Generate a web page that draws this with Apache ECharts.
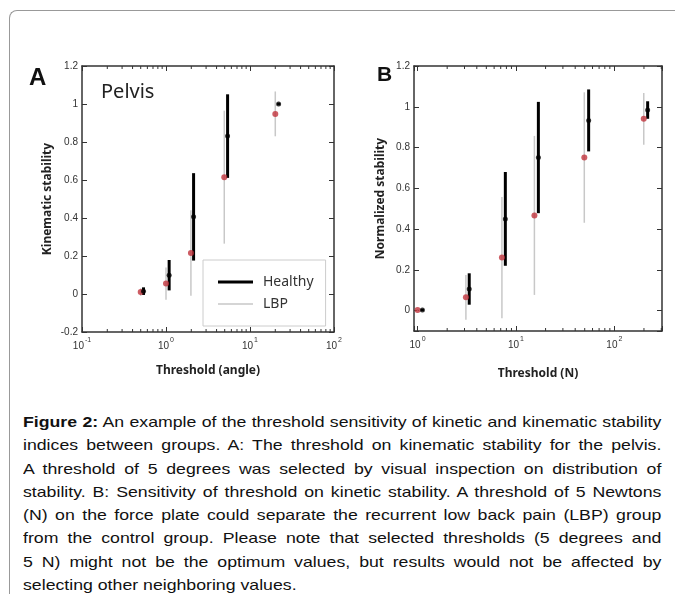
<!doctype html>
<html>
<head>
<meta charset="utf-8">
<title>Figure 2</title>
<script src="https://cdn.jsdelivr.net/npm/echarts@6/dist/echarts.min.js"></script>
<style>
    html, body { margin: 0; padding: 0; background: #fff; }
    #wrap { position: relative; width: 675px; height: 594px; overflow: hidden; }
    #frame {
        position: absolute; left: 9px; top: 10px; width: 720px; height: 650px;
        border-top: 1.5px solid #999; border-left: 1.5px solid #999;
        border-top-left-radius: 8px;
    }
    #main { position: absolute; left: 0; top: 0; width: 675px; height: 400px; }
    #caption {
        position: absolute; left: 23px; top: 410px; width: 541px;
        transform: scaleX(1.18); transform-origin: 0 0;
        font-family: 'Liberation Sans', Arial, sans-serif; font-size: 15px; color: #111;
    }
    #caption div { line-height: 23.3px; height: 23.3px; white-space: nowrap; text-align: justify; text-align-last: justify; }
    #caption div.last { text-align-last: left; }
</style>
</head>
<body>
<div id="wrap">
    <div id="frame"></div>
    <div id="main"></div>
    <div id="caption">
        <div><b>Figure 2:</b> An example of the threshold sensitivity of kinetic and kinematic stability</div>
        <div>indices between groups. A: The threshold on kinematic stability for the pelvis.</div>
        <div>A threshold of 5 degrees was selected by visual inspection on distribution of</div>
        <div>stability. B: Sensitivity of threshold on kinetic stability. A threshold of 5 Newtons</div>
        <div>(N) on the force plate could separate the recurrent low back pain (LBP) group</div>
        <div>from the control group. Please note that selected thresholds (5 degrees and</div>
        <div>5 N) might not be the optimum values, but results would not be affected by</div>
        <div class="last">selecting other neighboring values.</div>
    </div>
</div>
<script>
    // panel A : kinematic stability (pelvis)
    var thrA_healthy = [0.54, 1.09, 2.13, 5.41, 21.9];
    var meanA_healthy = [0.015, 0.099, 0.406, 0.831, 1.0];
    var errA_healthy = [0.02, 0.08, 0.23, 0.22, 0.005];
    var thrA_lbp = [0.5, 1.0, 1.98, 4.94, 20];
    var meanA_lbp = [0.01, 0.055, 0.216, 0.615, 0.948];
    var errA_lbp = [0.02, 0.085, 0.225, 0.35, 0.118];

    // panel B : normalized (kinetic) stability
    var thrB_healthy = [1.12, 3.35, 7.8, 16.9, 54.8, 218];
    var meanB_healthy = [0.003, 0.106, 0.45, 0.751, 0.933, 0.984];
    var errB_healthy = [0.005, 0.077, 0.23, 0.273, 0.152, 0.043];
    var thrB_lbp = [1.0, 3.1, 7.2, 15.4, 49.5, 199];
    var meanB_lbp = [0.003, 0.065, 0.26, 0.467, 0.751, 0.941];
    var errB_lbp = [0.005, 0.11, 0.297, 0.39, 0.32, 0.127];

    // log minor ticks
    var minorA = [0.2, 0.3, 0.4, 0.5, 0.6, 0.7, 0.8, 0.9, 2, 3, 4, 5, 6, 7, 8, 9, 20, 30, 40, 50, 60, 70, 80, 90];
    var minorB = [2, 3, 4, 5, 6, 7, 8, 9, 20, 30, 40, 50, 60, 70, 80, 90, 200, 300];

    var myChart = echarts.init(document.getElementById('main'));

    function rows(xs, ms, es) {
        return xs.map(function (x, i) { return [x, ms[i], es[i]]; });
    }

    function errBar(color, width) {
        return function (params, api) {
            var x = api.value(0), m = api.value(1), e = api.value(2);
            var p1 = api.coord([x, m + e]);
            var p2 = api.coord([x, m - e]);
            return {
                type: 'line',
                shape: { x1: p1[0], y1: p1[1], x2: p2[0], y2: p2[1] },
                style: { stroke: color, lineWidth: width }
            };
        };
    }

    function minorTick(params, api) {
        var cs = params.coordSys;
        var x = api.coord([api.value(0), 0.5])[0];
        var st = { stroke: '#333', lineWidth: 1 };
        return {
            type: 'group',
            children: [
                { type: 'line', shape: { x1: x, y1: cs.y + cs.height, x2: x, y2: cs.y + cs.height - 3 }, style: st },
                { type: 'line', shape: { x1: x, y1: cs.y, x2: x, y2: cs.y + 3 }, style: st }
            ]
        };
    }

    function logLabel(v) {
        var e = Math.round(Math.log(v) / Math.LN10);
        if (Math.abs(Math.log(v) / Math.LN10 - e) > 1e-6) return '';
        return '{b|10}{s|' + e + '}';
    }

    function yLabel(v) {
        var k = v / 0.2;
        if (Math.abs(k - Math.round(k)) > 1e-6) return '';
        return String(+v.toFixed(1));
    }

    var axLine = { show: true, onZero: false, lineStyle: { color: '#333', width: 1.5 } };
    var axTick = { show: true, inside: true, length: 5, lineStyle: { color: '#333' } };
    var nameStyle = { fontFamily: 'Noto Sans', fontWeight: 'bold', fontSize: 12, color: '#222' };
    var logRich = {
        b: { fontFamily: 'Liberation Sans', fontSize: 10, color: '#333', lineHeight: 14, verticalAlign: 'bottom' },
        s: { fontFamily: 'Liberation Sans', fontSize: 7, color: '#333', lineHeight: 14, verticalAlign: 'top', padding: [0, 0, 0, 1] }
    };

    function xAx(grid, min, max, pos, name, gap) {
        return {
            type: 'log', logBase: 10, gridIndex: grid, min: min, max: max, position: pos,
            axisLine: axLine, axisTick: axTick, splitLine: { show: false },
            axisLabel: { show: pos === 'bottom', formatter: logLabel, rich: logRich, margin: 5 },
            name: name, nameLocation: 'middle', nameGap: gap, nameTextStyle: nameStyle
        };
    }

    function yAx(grid, min, max, pos, name, gap, extra) {
        var a = {
            type: 'value', gridIndex: grid, min: min, max: max, position: pos,
            axisLine: axLine, axisTick: axTick, splitLine: { show: false },
            axisLabel: { show: pos === 'left', formatter: yLabel, margin: 4,
                fontFamily: 'Liberation Sans', fontSize: 10, color: '#333' },
            name: name, nameLocation: 'middle', nameGap: gap, nameTextStyle: nameStyle
        };
        for (var k in extra) a[k] = extra[k];
        return a;
    }

    var iconHealthy = 'path://M0,0h0.01v0.01h-0.01z M0,3.6h35v2.8h-35z M0,10h0.01v-0.01h-0.01z';
    var iconLbp = 'path://M0,0h0.01v0.01h-0.01z M0,4.3h35v1.4h-35z M0,10h0.01v-0.01h-0.01z';

    option = {
        animation: false,
        grid: [
            { left: 82, top: 66, width: 252, height: 266 },
            { left: 414, top: 66, width: 248, height: 265 }
        ],
        xAxis: [
            xAx(0, 0.1, 100, 'bottom', 'Threshold (angle)', 33),
            xAx(0, 0.1, 100, 'top', '', 0),
            xAx(1, 0.92, 305, 'bottom', 'Threshold (N)', 37),
            xAx(1, 0.92, 305, 'top', '', 0)
        ],
        yAxis: [
            yAx(0, -0.2, 1.2, 'left', 'Kinematic stability', 28, { interval: 0.2 }),
            yAx(0, -0.2, 1.2, 'right', '', 0, { interval: 0.2 }),
            yAx(1, -0.1, 1.2, 'left', 'Normalized stability', 27, { splitNumber: 6 }),
            yAx(1, -0.1, 1.2, 'right', '', 0, { splitNumber: 6 })
        ],
        legend: {
            left: 203, top: 260, orient: 'vertical', selectedMode: false,
            itemWidth: 35, itemHeight: 10, itemGap: 8,
            padding: [15, 12, 15, 15],
            backgroundColor: '#fff', borderColor: '#ccc', borderWidth: 1,
            textStyle: { fontFamily: 'Noto Sans', fontSize: 14, color: '#333', padding: [0, 0, 0, 5] },
            data: [
                { name: 'Healthy', icon: iconHealthy, itemStyle: { color: '#000' } },
                { name: 'LBP', icon: iconLbp, itemStyle: { color: '#c8c8c8' } }
            ]
        },
        graphic: [
            { type: 'text', left: 29, top: 66, style: { text: 'A', font: 'bold 24px "Liberation Sans"', fill: '#111' } },
            { type: 'text', left: 377, top: 65, style: { text: 'B', font: 'bold 21px "Liberation Sans"', fill: '#111' } },
            { type: 'text', left: 101, top: 82, style: { text: 'Pelvis', font: '20px "Noto Sans"', fill: '#222' } }
        ],
        series: [
            { type: 'custom', name: 'minorA', xAxisIndex: 0, yAxisIndex: 0, silent: true, renderItem: minorTick,
                data: minorA.map(function (v) { return [v]; }) },
            { type: 'custom', name: 'minorB', xAxisIndex: 2, yAxisIndex: 2, silent: true, renderItem: minorTick,
                data: minorB.map(function (v) { return [v]; }) },

            { type: 'custom', name: 'LBP', xAxisIndex: 0, yAxisIndex: 0, z: 2, itemStyle: { color: '#c8c8c8' },
                renderItem: errBar('#c8c8c8', 1.5), data: rows(thrA_lbp, meanA_lbp, errA_lbp) },
            { type: 'custom', name: 'Healthy', xAxisIndex: 0, yAxisIndex: 0, z: 3, itemStyle: { color: '#000' },
                renderItem: errBar('#000', 3), data: rows(thrA_healthy, meanA_healthy, errA_healthy) },
            { type: 'scatter', name: 'LBP mean A', xAxisIndex: 0, yAxisIndex: 0, z: 4, symbolSize: 6,
                itemStyle: { color: '#c0333c' }, data: rows(thrA_lbp, meanA_lbp, errA_lbp) },
            { type: 'scatter', name: 'Healthy mean A', xAxisIndex: 0, yAxisIndex: 0, z: 5, symbolSize: 5,
                itemStyle: { color: '#000' }, data: rows(thrA_healthy, meanA_healthy, errA_healthy) },

            { type: 'custom', name: 'LBP', xAxisIndex: 2, yAxisIndex: 2, z: 2, itemStyle: { color: '#c8c8c8' },
                renderItem: errBar('#c8c8c8', 1.5), data: rows(thrB_lbp, meanB_lbp, errB_lbp) },
            { type: 'custom', name: 'Healthy', xAxisIndex: 2, yAxisIndex: 2, z: 3, itemStyle: { color: '#000' },
                renderItem: errBar('#000', 3), data: rows(thrB_healthy, meanB_healthy, errB_healthy) },
            { type: 'scatter', name: 'LBP mean B', xAxisIndex: 2, yAxisIndex: 2, z: 4, symbolSize: 6,
                itemStyle: { color: '#c0333c' }, data: rows(thrB_lbp, meanB_lbp, errB_lbp) },
            { type: 'scatter', name: 'Healthy mean B', xAxisIndex: 2, yAxisIndex: 2, z: 5, symbolSize: 5,
                itemStyle: { color: '#000' }, data: rows(thrB_healthy, meanB_healthy, errB_healthy) }
        ]
    };
    myChart.setOption(option);
</script>
</body>
</html>
